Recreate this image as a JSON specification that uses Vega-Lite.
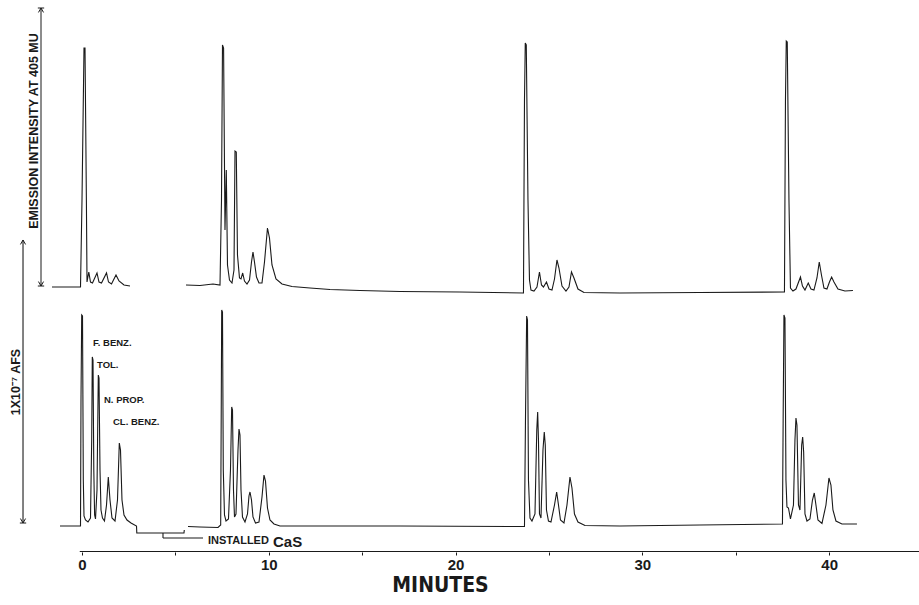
{
  "$schema": "https://vega.github.io/schema/vega-lite/v6.json",
  "width": 919,
  "height": 552,
  "autosize": {"type": "none"},
  "padding": {"left": 0, "right": 0, "top": 0, "bottom": 53},
  "background": "white",
  "config": {"view": {"stroke": null}},
  "datasets": {
    "top": [
      {"t": -1.606, "v": 0, "run": 1}, {"t": -0.107, "v": 0, "run": 1}, {"t": -0.08, "v": 0, "run": 1},
      {"t": 0.0, "v": 31.18, "run": 1}, {"t": 0.107, "v": 85.66, "run": 1}, {"t": 0.161, "v": 85.66, "run": 1},
      {"t": 0.235, "v": 31.18, "run": 1}, {"t": 0.268, "v": 1.79, "run": 1}, {"t": 0.364, "v": 5.38, "run": 1},
      {"t": 0.455, "v": 1.79, "run": 1}, {"t": 0.562, "v": 1.43, "run": 1}, {"t": 0.803, "v": 5.02, "run": 1},
      {"t": 0.91, "v": 1.79, "run": 1}, {"t": 1.044, "v": 1.43, "run": 1}, {"t": 1.312, "v": 5.02, "run": 1},
      {"t": 1.419, "v": 1.79, "run": 1}, {"t": 1.579, "v": 1.08, "run": 1}, {"t": 1.82, "v": 4.3, "run": 1},
      {"t": 1.981, "v": 2.15, "run": 1}, {"t": 2.248, "v": 0.72, "run": 1}, {"t": 2.57, "v": 0.36, "run": 1},
      {"t": 5.567, "v": 0.72, "run": 2}, {"t": 6.317, "v": 0.54, "run": 2}, {"t": 7.013, "v": 1.08, "run": 2},
      {"t": 7.388, "v": 0.72, "run": 2}, {"t": 7.468, "v": 31.18, "run": 2}, {"t": 7.521, "v": 86.74, "run": 2},
      {"t": 7.58, "v": 85.66, "run": 2}, {"t": 7.655, "v": 20.43, "run": 2}, {"t": 7.725, "v": 41.94, "run": 2},
      {"t": 7.789, "v": 7.89, "run": 2}, {"t": 7.896, "v": 2.51, "run": 2}, {"t": 8.03, "v": 1.43, "run": 2},
      {"t": 8.137, "v": 6.09, "run": 2}, {"t": 8.191, "v": 48.75, "run": 2}, {"t": 8.26, "v": 48.39, "run": 2},
      {"t": 8.324, "v": 11.47, "run": 2}, {"t": 8.431, "v": 3.23, "run": 2}, {"t": 8.512, "v": 2.87, "run": 2},
      {"t": 8.603, "v": 5.02, "run": 2}, {"t": 8.699, "v": 2.15, "run": 2}, {"t": 8.833, "v": 1.08, "run": 2},
      {"t": 8.967, "v": 2.51, "run": 2}, {"t": 9.074, "v": 8.96, "run": 2}, {"t": 9.154, "v": 12.54, "run": 2},
      {"t": 9.234, "v": 8.96, "run": 2}, {"t": 9.341, "v": 3.58, "run": 2}, {"t": 9.475, "v": 1.43, "run": 2},
      {"t": 9.636, "v": 1.43, "run": 2}, {"t": 9.77, "v": 8.96, "run": 2}, {"t": 9.93, "v": 21.15, "run": 2},
      {"t": 10.037, "v": 17.56, "run": 2}, {"t": 10.171, "v": 7.89, "run": 2}, {"t": 10.385, "v": 2.87, "run": 2},
      {"t": 10.707, "v": 1.08, "run": 2}, {"t": 11.242, "v": 0.18, "run": 2}, {"t": 12.206, "v": -0.36, "run": 2},
      {"t": 13.276, "v": -0.9, "run": 2}, {"t": 14.882, "v": -1.25, "run": 2}, {"t": 17.024, "v": -1.61, "run": 2},
      {"t": 20.236, "v": -1.79, "run": 2}, {"t": 23.635, "v": -2.15, "run": 2}, {"t": 23.689, "v": 67.03, "run": 2},
      {"t": 23.731, "v": 87.46, "run": 2}, {"t": 23.785, "v": 86.74, "run": 2}, {"t": 23.876, "v": 31.18, "run": 2},
      {"t": 23.956, "v": 2.51, "run": 2}, {"t": 24.036, "v": -1.08, "run": 2}, {"t": 24.197, "v": -1.43, "run": 2},
      {"t": 24.358, "v": 0, "run": 2}, {"t": 24.491, "v": 5.38, "run": 2}, {"t": 24.599, "v": 0.72, "run": 2},
      {"t": 24.706, "v": 0, "run": 2}, {"t": 24.866, "v": 1.79, "run": 2}, {"t": 25.0, "v": -0.72, "run": 2},
      {"t": 25.161, "v": -1.08, "run": 2}, {"t": 25.295, "v": 2.87, "run": 2}, {"t": 25.428, "v": 9.68, "run": 2},
      {"t": 25.535, "v": 6.81, "run": 2}, {"t": 25.696, "v": 0.36, "run": 2}, {"t": 25.91, "v": -1.43, "run": 2},
      {"t": 26.071, "v": 0, "run": 2}, {"t": 26.205, "v": 5.38, "run": 2}, {"t": 26.338, "v": 3.23, "run": 2},
      {"t": 26.552, "v": -0.72, "run": 2}, {"t": 26.874, "v": -1.97, "run": 2}, {"t": 28.801, "v": -2.15, "run": 2},
      {"t": 33.084, "v": -1.97, "run": 2}, {"t": 37.607, "v": -1.79, "run": 2}, {"t": 37.661, "v": 67.03, "run": 2},
      {"t": 37.704, "v": 88.17, "run": 2}, {"t": 37.757, "v": 87.81, "run": 2}, {"t": 37.848, "v": 31.18, "run": 2},
      {"t": 37.928, "v": -0.36, "run": 2}, {"t": 38.062, "v": -1.43, "run": 2}, {"t": 38.223, "v": -0.72, "run": 2},
      {"t": 38.464, "v": 3.58, "run": 2}, {"t": 38.571, "v": 0.36, "run": 2}, {"t": 38.705, "v": -1.08, "run": 2},
      {"t": 38.881, "v": 1.43, "run": 2}, {"t": 39.026, "v": -0.72, "run": 2}, {"t": 39.186, "v": -1.08, "run": 2},
      {"t": 39.347, "v": 3.23, "run": 2}, {"t": 39.47, "v": 8.96, "run": 2}, {"t": 39.588, "v": 4.3, "run": 2},
      {"t": 39.722, "v": -0.36, "run": 2}, {"t": 39.882, "v": -0.72, "run": 2}, {"t": 40.016, "v": 1.79, "run": 2},
      {"t": 40.133, "v": 3.58, "run": 2}, {"t": 40.257, "v": 1.79, "run": 2}, {"t": 40.471, "v": -0.72, "run": 2},
      {"t": 40.846, "v": -1.43, "run": 2}, {"t": 41.274, "v": -1.25, "run": 2}
    ],
    "bottom": [
      {"t": -1.178, "v": -0.35, "run": 1}, {"t": -0.08, "v": -0.35, "run": 1}, {"t": -0.054, "v": 43.86, "run": 1},
      {"t": -0.016, "v": 73.68, "run": 1}, {"t": 0.027, "v": 73.33, "run": 1}, {"t": 0.07, "v": 15.79, "run": 1},
      {"t": 0.107, "v": 3.16, "run": 1}, {"t": 0.187, "v": 1.75, "run": 1}, {"t": 0.321, "v": 1.05, "run": 1},
      {"t": 0.455, "v": 2.46, "run": 1}, {"t": 0.519, "v": 29.82, "run": 1}, {"t": 0.551, "v": 58.95, "run": 1},
      {"t": 0.589, "v": 57.89, "run": 1}, {"t": 0.632, "v": 19.3, "run": 1}, {"t": 0.675, "v": 3.51, "run": 1},
      {"t": 0.723, "v": 2.11, "run": 1}, {"t": 0.803, "v": 12.28, "run": 1}, {"t": 0.873, "v": 52.63, "run": 1},
      {"t": 0.91, "v": 51.58, "run": 1}, {"t": 0.964, "v": 19.3, "run": 1}, {"t": 1.017, "v": 5.26, "run": 1},
      {"t": 1.097, "v": 2.46, "run": 1}, {"t": 1.204, "v": 1.4, "run": 1}, {"t": 1.312, "v": 7.02, "run": 1},
      {"t": 1.408, "v": 16.84, "run": 1}, {"t": 1.499, "v": 8.77, "run": 1}, {"t": 1.606, "v": 2.46, "run": 1},
      {"t": 1.767, "v": 1.4, "run": 1}, {"t": 1.9, "v": 8.77, "run": 1}, {"t": 1.997, "v": 28.77, "run": 1},
      {"t": 2.061, "v": 26.32, "run": 1}, {"t": 2.141, "v": 8.77, "run": 1}, {"t": 2.248, "v": 3.51, "run": 1},
      {"t": 2.409, "v": 1.75, "run": 1}, {"t": 2.623, "v": 0.7, "run": 1}, {"t": 2.918, "v": -0.35, "run": 1},
      {"t": 2.934, "v": -2.81, "run": 1}, {"t": 5.46, "v": -2.81, "run": 1}, {"t": 5.476, "v": -1.75, "run": 1},
      {"t": 5.674, "v": -0.53, "run": 2}, {"t": 6.317, "v": -0.7, "run": 2}, {"t": 7.281, "v": -0.88, "run": 2},
      {"t": 7.425, "v": 0, "run": 2}, {"t": 7.457, "v": 43.86, "run": 2}, {"t": 7.479, "v": 75.44, "run": 2},
      {"t": 7.521, "v": 74.74, "run": 2}, {"t": 7.564, "v": 19.3, "run": 2}, {"t": 7.628, "v": 3.51, "run": 2},
      {"t": 7.709, "v": 1.4, "run": 2}, {"t": 7.842, "v": 2.11, "run": 2}, {"t": 7.949, "v": 19.3, "run": 2},
      {"t": 8.014, "v": 41.4, "run": 2}, {"t": 8.057, "v": 40.35, "run": 2}, {"t": 8.11, "v": 12.28, "run": 2},
      {"t": 8.164, "v": 2.81, "run": 2}, {"t": 8.244, "v": 3.86, "run": 2}, {"t": 8.351, "v": 26.32, "run": 2},
      {"t": 8.405, "v": 33.68, "run": 2}, {"t": 8.458, "v": 31.58, "run": 2}, {"t": 8.512, "v": 12.28, "run": 2},
      {"t": 8.592, "v": 2.81, "run": 2}, {"t": 8.726, "v": 1.05, "run": 2}, {"t": 8.86, "v": 3.86, "run": 2},
      {"t": 8.94, "v": 10.18, "run": 2}, {"t": 8.994, "v": 11.58, "run": 2}, {"t": 9.074, "v": 8.77, "run": 2},
      {"t": 9.154, "v": 2.81, "run": 2}, {"t": 9.288, "v": 0.7, "run": 2}, {"t": 9.475, "v": 1.05, "run": 2},
      {"t": 9.636, "v": 9.82, "run": 2}, {"t": 9.743, "v": 17.54, "run": 2}, {"t": 9.823, "v": 15.44, "run": 2},
      {"t": 9.93, "v": 5.96, "run": 2}, {"t": 10.064, "v": 1.75, "run": 2}, {"t": 10.278, "v": 0.35, "run": 2},
      {"t": 10.6, "v": -0.35, "run": 2}, {"t": 17.024, "v": -0.35, "run": 2}, {"t": 23.689, "v": -0.53, "run": 2},
      {"t": 23.742, "v": 36.84, "run": 2}, {"t": 23.806, "v": 73.33, "run": 2}, {"t": 23.849, "v": 71.93, "run": 2},
      {"t": 23.902, "v": 15.79, "run": 2}, {"t": 23.983, "v": 2.46, "run": 2}, {"t": 24.09, "v": 1.4, "run": 2},
      {"t": 24.251, "v": 3.86, "run": 2}, {"t": 24.347, "v": 33.33, "run": 2}, {"t": 24.395, "v": 39.65, "run": 2},
      {"t": 24.438, "v": 29.82, "run": 2}, {"t": 24.491, "v": 3.86, "run": 2}, {"t": 24.572, "v": 2.46, "run": 2},
      {"t": 24.679, "v": 26.32, "run": 2}, {"t": 24.748, "v": 32.63, "run": 2}, {"t": 24.802, "v": 28.07, "run": 2},
      {"t": 24.866, "v": 5.26, "run": 2}, {"t": 24.973, "v": 1.4, "run": 2}, {"t": 25.107, "v": 1.05, "run": 2},
      {"t": 25.295, "v": 7.02, "run": 2}, {"t": 25.412, "v": 11.58, "run": 2}, {"t": 25.509, "v": 7.02, "run": 2},
      {"t": 25.616, "v": 1.75, "run": 2}, {"t": 25.803, "v": 0.7, "run": 2}, {"t": 25.964, "v": 7.02, "run": 2},
      {"t": 26.124, "v": 16.84, "run": 2}, {"t": 26.231, "v": 12.98, "run": 2}, {"t": 26.365, "v": 3.86, "run": 2},
      {"t": 26.552, "v": 1.05, "run": 2}, {"t": 26.927, "v": -0.18, "run": 2}, {"t": 28.801, "v": -0.35, "run": 2},
      {"t": 33.084, "v": 0, "run": 2}, {"t": 37.5, "v": 0.35, "run": 2}, {"t": 37.537, "v": 36.84, "run": 2},
      {"t": 37.58, "v": 73.68, "run": 2}, {"t": 37.634, "v": 72.63, "run": 2}, {"t": 37.687, "v": 15.79, "run": 2},
      {"t": 37.741, "v": 6.32, "run": 2}, {"t": 37.821, "v": 5.96, "run": 2}, {"t": 37.928, "v": 2.11, "run": 2},
      {"t": 38.089, "v": 7.02, "run": 2}, {"t": 38.169, "v": 29.82, "run": 2}, {"t": 38.223, "v": 37.54, "run": 2},
      {"t": 38.276, "v": 35.09, "run": 2}, {"t": 38.357, "v": 7.02, "run": 2}, {"t": 38.437, "v": 5.26, "run": 2},
      {"t": 38.528, "v": 28.07, "run": 2}, {"t": 38.582, "v": 30.88, "run": 2}, {"t": 38.635, "v": 25.61, "run": 2},
      {"t": 38.705, "v": 3.86, "run": 2}, {"t": 38.812, "v": 1.4, "run": 2}, {"t": 38.972, "v": 2.11, "run": 2},
      {"t": 39.106, "v": 8.77, "run": 2}, {"t": 39.203, "v": 11.23, "run": 2}, {"t": 39.293, "v": 7.02, "run": 2},
      {"t": 39.4, "v": 1.75, "run": 2}, {"t": 39.615, "v": 0.53, "run": 2}, {"t": 39.829, "v": 7.02, "run": 2},
      {"t": 39.989, "v": 16.49, "run": 2}, {"t": 40.096, "v": 14.04, "run": 2}, {"t": 40.203, "v": 5.26, "run": 2},
      {"t": 40.364, "v": 1.4, "run": 2}, {"t": 40.685, "v": 0.35, "run": 2}, {"t": 41.488, "v": 0.35, "run": 2}
    ]
  },
  "layer": [
    {
      "layer": [
        {
          "data": {"name": "top"},
          "mark": {"type": "line", "color": "#1a1a1a", "strokeWidth": 1.1},
          "encoding": {
            "x": {"field": "t", "type": "quantitative", "scale": {"domain": [-4.39, 44.81], "nice": false, "zero": false}, "title": "MINUTES"},
            "y": {"field": "v", "type": "quantitative", "scale": {"domain": [-94.98, 102.87], "nice": false, "zero": false}, "axis": null},
            "detail": {"field": "run", "type": "nominal"}
          }
        },
        {
          "data": {"values": [{"t": -2.195, "t2": -2.195, "v": 0.36, "v2": 100}]},
          "mark": {"type": "rule", "color": "#1a1a1a", "strokeWidth": 1},
          "encoding": {
            "x": {"field": "t", "type": "quantitative", "scale": {"domain": [-4.39, 44.81], "nice": false, "zero": false}, "title": "MINUTES"},
            "x2": {"field": "t2"},
            "y": {"field": "v", "type": "quantitative", "scale": {"domain": [-94.98, 102.87], "nice": false, "zero": false}, "axis": null},
            "y2": {"field": "v2"}
          }
        },
        {
          "data": {"values": [{"t": -2.195, "v": 100}]},
          "mark": {"type": "point", "shape": "M -1 0 L 1 0 M -0.8 1.4 L 0 0 L 0.8 1.4", "filled": false, "color": "#1a1a1a", "strokeWidth": 1, "size": 40, "opacity": 1},
          "encoding": {
            "x": {"field": "t", "type": "quantitative", "scale": {"domain": [-4.39, 44.81], "nice": false, "zero": false}, "title": "MINUTES"},
            "y": {"field": "v", "type": "quantitative", "scale": {"domain": [-94.98, 102.87], "nice": false, "zero": false}, "axis": null}
          }
        },
        {
          "data": {"values": [{"t": -2.195, "v": 0.36}]},
          "mark": {"type": "point", "shape": "M -1 0 L 1 0 M -0.8 -1.4 L 0 0 L 0.8 -1.4", "filled": false, "color": "#1a1a1a", "strokeWidth": 1, "size": 40, "opacity": 1},
          "encoding": {
            "x": {"field": "t", "type": "quantitative", "scale": {"domain": [-4.39, 44.81], "nice": false, "zero": false}, "title": "MINUTES"},
            "y": {"field": "v", "type": "quantitative", "scale": {"domain": [-94.98, 102.87], "nice": false, "zero": false}, "axis": null}
          }
        },
        {
          "data": {"values": [{"t": -2.195, "v": 55.9, "label": "EMISSION  INTENSITY  AT  405  MU"}]},
          "mark": {"type": "text", "angle": 270, "align": "center", "baseline": "bottom", "font": "Liberation Sans", "fontWeight": "bold", "fontSize": 12.5, "color": "#1a1a1a"},
          "encoding": {
            "x": {"field": "t", "type": "quantitative", "scale": {"domain": [-4.39, 44.81], "nice": false, "zero": false}, "title": "MINUTES"},
            "y": {"field": "v", "type": "quantitative", "scale": {"domain": [-94.98, 102.87], "nice": false, "zero": false}, "axis": null},
            "text": {"field": "label"}
          }
        }
      ]
    },
    {
      "layer": [
        {
          "data": {"name": "bottom"},
          "mark": {"type": "line", "color": "#1a1a1a", "strokeWidth": 1.1},
          "encoding": {
            "x": {"field": "t", "type": "quantitative", "scale": {"domain": [-4.39, 44.81], "nice": false, "zero": false}, "title": "MINUTES"},
            "y": {"field": "v", "type": "quantitative", "scale": {"domain": [-9.474, 184.21], "nice": false, "zero": false}, "axis": null},
            "detail": {"field": "run", "type": "nominal"}
          }
        },
        {
          "data": {"values": [
            {"t": -3.158, "t2": -3.158, "v": 0.7, "v2": 100},
            {"t": 4.336, "t2": 4.336, "v": -2.81, "v2": -4.56},
            {"t": 4.336, "t2": 6.478, "v": -4.56, "v2": -4.56},
            {"t": -0.12, "t2": 44.81, "v": -9.3, "v2": -9.3}
          ]},
          "mark": {"type": "rule", "color": "#1a1a1a", "strokeWidth": 1.1},
          "encoding": {
            "x": {"field": "t", "type": "quantitative", "scale": {"domain": [-4.39, 44.81], "nice": false, "zero": false}, "title": "MINUTES"},
            "x2": {"field": "t2"},
            "y": {"field": "v", "type": "quantitative", "scale": {"domain": [-9.474, 184.21], "nice": false, "zero": false}, "axis": null},
            "y2": {"field": "v2"}
          }
        },
        {
          "data": {"values": [{"t": -3.158, "v": 100}]},
          "mark": {"type": "point", "shape": "M -0.8 1.4 L 0 0 L 0.8 1.4", "filled": false, "color": "#1a1a1a", "strokeWidth": 1, "size": 40, "opacity": 1},
          "encoding": {
            "x": {"field": "t", "type": "quantitative", "scale": {"domain": [-4.39, 44.81], "nice": false, "zero": false}, "title": "MINUTES"},
            "y": {"field": "v", "type": "quantitative", "scale": {"domain": [-9.474, 184.21], "nice": false, "zero": false}, "axis": null}
          }
        },
        {
          "data": {"values": [{"t": -3.158, "v": 0.7}]},
          "mark": {"type": "point", "shape": "M -1 0 L 1 0 M -0.8 -1.4 L 0 0 L 0.8 -1.4", "filled": false, "color": "#1a1a1a", "strokeWidth": 1, "size": 40, "opacity": 1},
          "encoding": {
            "x": {"field": "t", "type": "quantitative", "scale": {"domain": [-4.39, 44.81], "nice": false, "zero": false}, "title": "MINUTES"},
            "y": {"field": "v", "type": "quantitative", "scale": {"domain": [-9.474, 184.21], "nice": false, "zero": false}, "axis": null}
          }
        },
        {
          "data": {"values": [{"t": -3.158, "v": 50.18, "label": "1X10⁻⁷  AFS"}]},
          "mark": {"type": "text", "angle": 270, "align": "center", "baseline": "bottom", "font": "Liberation Sans", "fontWeight": "bold", "fontSize": 12.5, "color": "#1a1a1a"},
          "encoding": {
            "x": {"field": "t", "type": "quantitative", "scale": {"domain": [-4.39, 44.81], "nice": false, "zero": false}, "title": "MINUTES"},
            "y": {"field": "v", "type": "quantitative", "scale": {"domain": [-9.474, 184.21], "nice": false, "zero": false}, "axis": null},
            "text": {"field": "label"}
          }
        },
        {
          "data": {"values": [
            {"t": 0.589, "v": 63.86, "label": "F. BENZ."},
            {"t": 0.803, "v": 56.14, "label": "TOL."},
            {"t": 1.178, "v": 43.86, "label": "N. PROP."},
            {"t": 1.66, "v": 36.14, "label": "CL. BENZ."}
          ]},
          "mark": {"type": "text", "align": "left", "baseline": "middle", "font": "Liberation Sans", "fontWeight": "bold", "fontSize": 9.5, "color": "#1a1a1a"},
          "encoding": {
            "x": {"field": "t", "type": "quantitative", "scale": {"domain": [-4.39, 44.81], "nice": false, "zero": false}, "title": "MINUTES"},
            "y": {"field": "v", "type": "quantitative", "scale": {"domain": [-9.474, 184.21], "nice": false, "zero": false}, "axis": null},
            "text": {"field": "label"}
          }
        },
        {
          "data": {"values": [{"t": 6.745, "v": -5.61, "label": "INSTALLED"}]},
          "mark": {"type": "text", "align": "left", "baseline": "middle", "font": "Liberation Sans", "fontWeight": "bold", "fontSize": 11, "color": "#1a1a1a"},
          "encoding": {
            "x": {"field": "t", "type": "quantitative", "scale": {"domain": [-4.39, 44.81], "nice": false, "zero": false}, "title": "MINUTES"},
            "y": {"field": "v", "type": "quantitative", "scale": {"domain": [-9.474, 184.21], "nice": false, "zero": false}, "axis": null},
            "text": {"field": "label"}
          }
        },
        {
          "data": {"values": [{"t": 10.225, "v": -5.9, "label": "CaS"}]},
          "mark": {"type": "text", "align": "left", "baseline": "middle", "font": "Liberation Sans", "fontWeight": "bold", "fontSize": 15, "color": "#1a1a1a"},
          "encoding": {
            "x": {"field": "t", "type": "quantitative", "scale": {"domain": [-4.39, 44.81], "nice": false, "zero": false}, "title": "MINUTES"},
            "y": {"field": "v", "type": "quantitative", "scale": {"domain": [-9.474, 184.21], "nice": false, "zero": false}, "axis": null},
            "text": {"field": "label"}
          }
        }
      ]
    }
  ],
  "resolve": {"scale": {"y": "independent"}, "axis": {"y": "independent"}},
  "encoding": {
    "x": {
      "field": "t", "type": "quantitative",
      "scale": {"domain": [-4.39, 44.81], "nice": false, "zero": false},
      "title": "MINUTES",
      "axis": {
        "values": [0, 5, 10, 15, 20, 25, 30, 35, 40],
        "labelExpr": "datum.value % 10 === 0 ? datum.label : ''",
        "domain": false, "grid": false,
        "tickSize": 3, "tickColor": "#1a1a1a", "tickWidth": 1,
        "labelFont": "Liberation Sans", "labelFontWeight": "bold", "labelFontSize": 15, "labelColor": "#1a1a1a", "labelPadding": 2,
        "labelFlush": false, "labelOverlap": false,
        "titleFont": "Liberation Sans Narrow, DejaVu Sans Condensed, sans-serif", "titleFontWeight": "bold", "titleFontSize": 21, "titleColor": "#1a1a1a",
        "titleX": 440, "titleY": 33, "titleBaseline": "middle", "titleAlign": "center"
      }
    }
  }
}
